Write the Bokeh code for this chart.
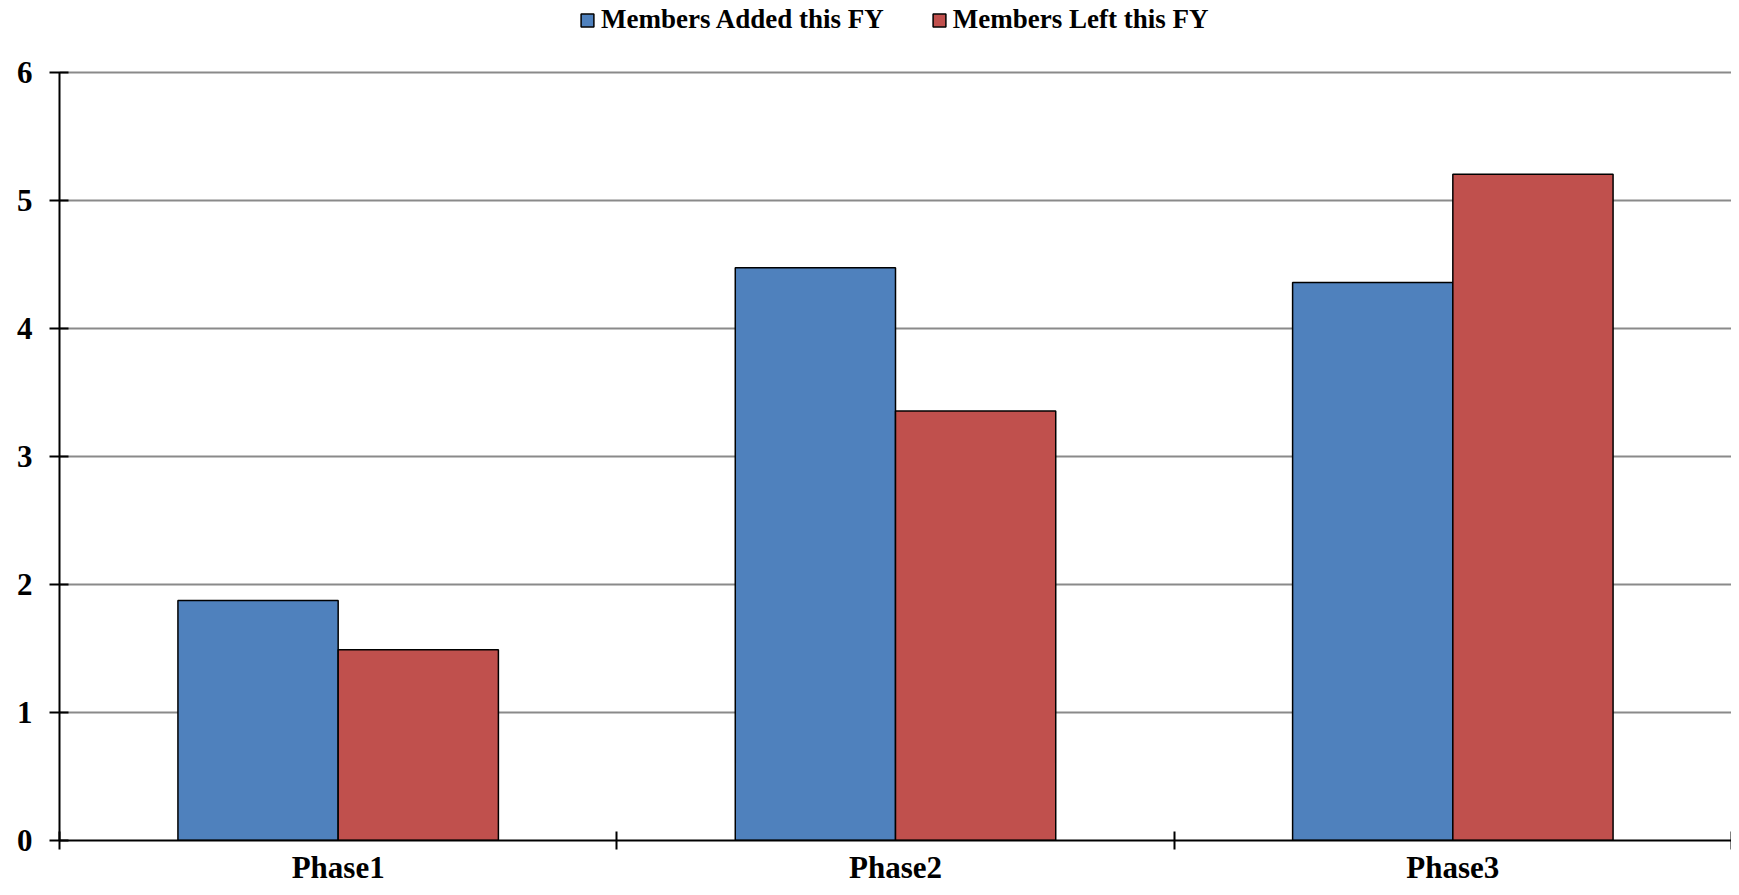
from bokeh.plotting import figure
from bokeh.models import ColumnDataSource, FixedTicker, Legend, LegendItem, Range1d
from bokeh.transform import dodge
from bokeh.embed import file_html
from bokeh.resources import INLINE

categories = ["Phase1", "Phase2", "Phase3"]
added = [1.875, 4.475, 4.36]
left = [1.49, 3.355, 5.205]
series_names = ["Members Added this FY", "Members Left this FY"]
colors = ["#4F81BD", "#C0504D"]
y_ticks = [0, 1, 2, 3, 4, 5, 6]

xpos = [i + 0.5 for i in range(len(categories))]
src = ColumnDataSource(data=dict(x=xpos, added=added, left=left, cat=categories))

FONT = "Liberation Serif"
W, H = 1731, 887
BORDER_BOTTOM = 47
FRAME_H = H - BORDER_BOTTOM          # frame runs from canvas top to the x axis
AXIS_TOP_PX = 72                     # pixel row where the value 6 sits
y_max = max(y_ticks)
y_end = y_max * FRAME_H / (FRAME_H - AXIS_TOP_PX)   # headroom above 6 for the legend

p = figure(width=W, height=H, output_backend="svg", toolbar_location=None,
           x_range=Range1d(0, len(categories)), y_range=Range1d(0, y_end),
           min_border_left=59, min_border_right=0, min_border_top=0,
           min_border_bottom=BORDER_BOTTOM)
p.outline_line_color = None
p.border_fill_color = "white"

bw = 0.2875
r1 = p.vbar(x=dodge("x", -bw / 2, range=p.x_range), top="added", width=bw, source=src,
            fill_color=colors[0], line_color="black", line_width=1.5)
r2 = p.vbar(x=dodge("x", bw / 2, range=p.x_range), top="left", width=bw, source=src,
            fill_color=colors[1], line_color="black", line_width=1.5)

# x axis: labels at category centers, tick marks at category boundaries
p.xaxis.ticker = FixedTicker(ticks=xpos, minor_ticks=list(range(len(categories) + 1)))
p.xaxis.major_label_overrides = {x: c for x, c in zip(xpos, categories)}
p.xaxis.major_tick_in = 0
p.xaxis.major_tick_out = 0
p.xaxis.minor_tick_in = 9
p.xaxis.minor_tick_out = 9
p.xaxis.minor_tick_line_color = "black"
p.xaxis.minor_tick_line_width = 2
p.xaxis.axis_line_color = "black"
p.xaxis.axis_line_width = 2
p.xaxis.major_label_text_font = FONT
p.xaxis.major_label_text_font_style = "bold"
p.xaxis.major_label_text_font_size = "31px"
p.xaxis.major_label_text_color = "black"
p.xaxis.major_label_standoff = 0

p.yaxis.ticker = FixedTicker(ticks=y_ticks, minor_ticks=[])
p.yaxis.bounds = (0, y_max)
p.yaxis.major_tick_in = 9
p.yaxis.major_tick_out = 10
p.yaxis.major_tick_line_color = "black"
p.yaxis.major_tick_line_width = 2
p.yaxis.axis_line_color = "black"
p.yaxis.axis_line_width = 2
p.yaxis.major_label_text_font = FONT
p.yaxis.major_label_text_font_style = "bold"
p.yaxis.major_label_text_font_size = "31px"
p.yaxis.major_label_text_color = "black"
p.yaxis.major_label_standoff = 17

p.xgrid.grid_line_color = None
p.ygrid.ticker = FixedTicker(ticks=y_ticks[1:])
p.ygrid.grid_line_color = "#8a8a8a"
p.ygrid.grid_line_width = 2

legend = Legend(items=[LegendItem(label=series_names[0], renderers=[r1]),
                       LegendItem(label=series_names[1], renderers=[r2])],
                orientation="horizontal", location=(520, FRAME_H - 35),
                glyph_width=16, glyph_height=16, label_standoff=6, spacing=47,
                padding=0, margin=0, border_line_color=None, background_fill_alpha=0,
                label_text_font=FONT, label_text_font_style="bold",
                label_text_font_size="27px", label_text_color="black")
p.add_layout(legend, "center")

open("out.html", "w").write(file_html(p, INLINE))
